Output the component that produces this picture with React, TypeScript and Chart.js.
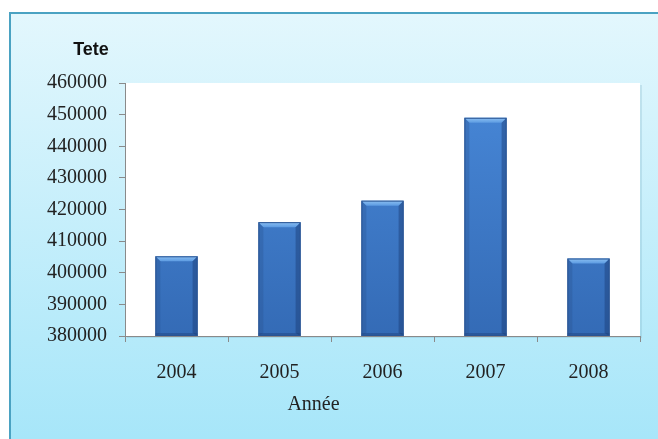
import React, { useEffect, useRef } from "react";
import { Chart, registerables } from "chart.js";

Chart.register(...registerables);

const categories = ["2004", "2005", "2006", "2007", "2008"];
const values = [405200, 416000, 422800, 449000, 404500];
const yMin = 380000;
const yMax = 460000;
const yStep = 10000;
const yTitle = "Tete";
const xTitle = "Année";

const serif = "'Liberation Serif', 'Times New Roman', serif";
const sans = "'Liberation Sans', Arial, sans-serif";

const decorPlugin = {
  id: "decor",
  beforeDraw(chart: any) {
    const { ctx, width, height, chartArea } = chart;
    ctx.save();
    ctx.fillStyle = "#ffffff";
    ctx.fillRect(0, 0, width, height);
    const fx = 9;
    const fy = 12;
    const g = ctx.createLinearGradient(0, fy, 0, height);
    g.addColorStop(0, "#e3f7fd");
    g.addColorStop(1, "#a7e6f9");
    ctx.fillStyle = g;
    ctx.fillRect(fx, fy, width - fx, height - fy);
    ctx.fillStyle = "#4aa2c2";
    ctx.fillRect(fx, fy, width - fx, 2);
    ctx.fillRect(fx, fy, 2, height - fy);
    ctx.fillStyle = "rgba(120,170,190,0.25)";
    ctx.fillRect(chartArea.left + 2, chartArea.top + 2, chartArea.right - chartArea.left, chartArea.bottom - chartArea.top);
    ctx.fillStyle = "#ffffff";
    ctx.fillRect(chartArea.left, chartArea.top, chartArea.right - chartArea.left, chartArea.bottom - chartArea.top);
    ctx.restore();
  },
  afterDatasetsDraw(chart: any) {
    const { ctx, chartArea } = chart;
    const meta = chart.getDatasetMeta(0);
    ctx.save();
    meta.data.forEach((el: any) => {
      const left = el.x - el.width / 2;
      const right = el.x + el.width / 2;
      const top = el.y;
      const bottom = Math.min(el.base, chartArea.bottom);
      const b = 5;
      const tg = ctx.createLinearGradient(0, top, 0, top + b);
      tg.addColorStop(0, "#8cc0f2");
      tg.addColorStop(1, "#5c9be2");
      ctx.fillStyle = tg;
      ctx.beginPath();
      ctx.moveTo(left, top);
      ctx.lineTo(right, top);
      ctx.lineTo(right - b, top + b);
      ctx.lineTo(left + b, top + b);
      ctx.closePath();
      ctx.fill();
      ctx.fillStyle = "rgba(40,80,140,0.3)";
      ctx.beginPath();
      ctx.moveTo(left, top);
      ctx.lineTo(left + b, top + b);
      ctx.lineTo(left + b, bottom - 3);
      ctx.lineTo(left, bottom);
      ctx.closePath();
      ctx.fill();
      ctx.fillStyle = "rgba(25,55,110,0.42)";
      ctx.beginPath();
      ctx.moveTo(right, top);
      ctx.lineTo(right - b, top + b);
      ctx.lineTo(right - b, bottom - 3);
      ctx.lineTo(right, bottom);
      ctx.closePath();
      ctx.fill();
      ctx.fillStyle = "rgba(25,55,110,0.35)";
      ctx.fillRect(left, bottom - 3, right - left, 3);
      ctx.strokeStyle = "#2a5492";
      ctx.lineWidth = 1;
      ctx.strokeRect(left + 0.5, top + 0.5, right - left - 1, bottom - top - 1);
    });
    ctx.restore();
  },
  afterDraw(chart: any) {
    const { ctx } = chart;
    ctx.save();
    ctx.fillStyle = "#111111";
    ctx.font = "bold 18px " + sans;
    ctx.textAlign = "center";
    ctx.textBaseline = "middle";
    ctx.fillText(yTitle, 91, 50);
    ctx.font = "20px " + serif;
    ctx.fillStyle = "#222222";
    const xs = chart.scales.x;
    const cx = xs.getPixelForValue(1.33);
    ctx.fillText(xTitle, cx, 405);
    ctx.restore();
  },
};

export default function App() {
  const ref = useRef<HTMLCanvasElement | null>(null);
  useEffect(() => {
    document.body.style.margin = "0";
    const canvas = ref.current!;
    const chart = new Chart(canvas, {
      type: "bar",
      data: {
        labels: categories,
        datasets: [
          {
            data: values,
            backgroundColor: (c: any) => {
              const ch = c.chart;
              const area = ch.chartArea;
              if (!area) return "#3b7acb";
              const g = ch.ctx.createLinearGradient(0, area.top, 0, area.bottom);
              g.addColorStop(0, "#4888d8");
              g.addColorStop(1, "#346bb6");
              return g;
            },
            borderWidth: 0,
            barPercentage: 0.41,
            categoryPercentage: 1,
          },
        ],
      },
      options: {
        responsive: false,
        animation: false,
        layout: { padding: { left: 0, top: 83, right: 18, bottom: 0 } },
        plugins: { legend: { display: false }, tooltip: { enabled: false }, title: { display: false } },
        scales: {
          x: {
            afterFit: (s: any) => {
              s.height = 103;
            },
            grid: { offset: true, drawOnChartArea: false, drawTicks: true, tickLength: 6, color: "#8a8a8a" },
            border: { display: true, color: "#8a8a8a" },
            ticks: { color: "#222222", font: { family: serif, size: 20 }, padding: 19 },
          },
          y: {
            min: yMin,
            max: yMax,
            afterFit: (s: any) => {
              s.width = 125;
            },
            grid: { drawOnChartArea: false, drawTicks: true, tickLength: 6, color: "#8a8a8a" },
            border: { display: true, color: "#8a8a8a" },
            ticks: {
              stepSize: yStep,
              color: "#222222",
              font: { family: serif, size: 20 },
              padding: 12,
              callback: (v: any) => String(v),
            },
          },
        },
      },
      plugins: [decorPlugin],
    });
    return () => chart.destroy();
  }, []);
  return (
    <div style={{ width: 658, height: 439 }}>
      <canvas ref={ref} width={658} height={439} />
    </div>
  );
}
